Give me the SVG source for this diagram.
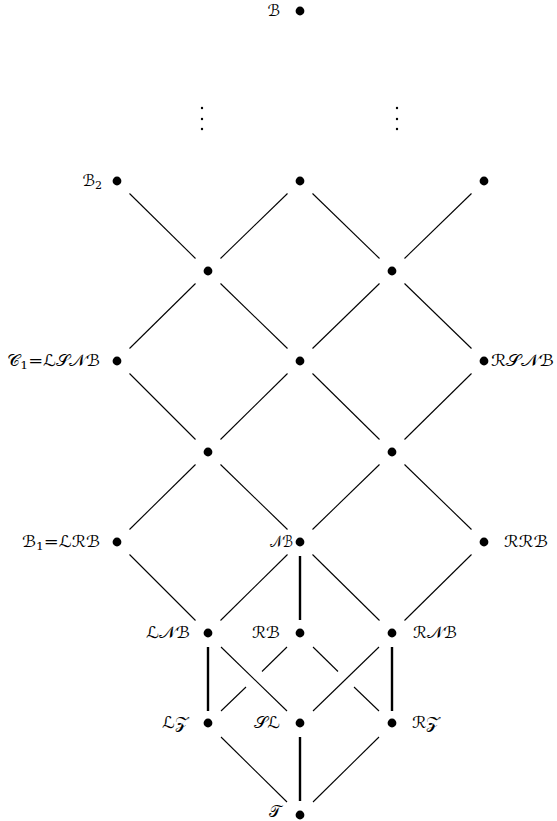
<svg xmlns="http://www.w3.org/2000/svg" width="557" height="821" viewBox="0 0 557 821">
<style>
  .e { stroke: #000; stroke-width: 1.1; fill: none; }
  .t { stroke: #000; stroke-width: 2.4; fill: none; }
  .dot { fill: #000; }
  .sd { fill: #000; }
  text { font-family: "DejaVu Serif", "DejaVu Sans", "Noto Sans", serif; font-size: 16px; fill: #000; }
  .l { text-anchor: end; }
  .sub { font-size: 11px; }
</style>
<rect width="557" height="821" fill="#fff"/>
<g id="connectors">
  <line class="e" x1="129.5" y1="193.5" x2="195.5" y2="258.5"/>
  <line class="e" x1="287.5" y1="193.5" x2="220.5" y2="258.5"/>
  <line class="e" x1="312.5" y1="193.5" x2="379.5" y2="258.5"/>
  <line class="e" x1="471.5" y1="193.5" x2="404.5" y2="258.5"/>
  <line class="e" x1="195.5" y1="283.5" x2="129.5" y2="348.5"/>
  <line class="e" x1="220.5" y1="283.5" x2="287.5" y2="348.5"/>
  <line class="e" x1="379.5" y1="283.5" x2="312.5" y2="348.5"/>
  <line class="e" x1="404.5" y1="283.5" x2="471.5" y2="348.5"/>
  <line class="e" x1="129.5" y1="373.5" x2="195.5" y2="439.5"/>
  <line class="e" x1="287.5" y1="373.5" x2="220.5" y2="439.5"/>
  <line class="e" x1="312.5" y1="373.5" x2="379.5" y2="439.5"/>
  <line class="e" x1="471.5" y1="373.5" x2="404.5" y2="439.5"/>
  <line class="e" x1="195.5" y1="464.5" x2="129.5" y2="529.5"/>
  <line class="e" x1="220.5" y1="464.5" x2="287.5" y2="529.5"/>
  <line class="e" x1="379.5" y1="464.5" x2="312.5" y2="529.5"/>
  <line class="e" x1="404.5" y1="464.5" x2="471.5" y2="529.5"/>
  <line class="e" x1="129.5" y1="554.5" x2="195.5" y2="620.5"/>
  <line class="e" x1="287.5" y1="554.5" x2="220.5" y2="620.5"/>
  <line class="t" x1="300" y1="556" x2="300" y2="620"/>
  <line class="e" x1="312.5" y1="554.5" x2="379.5" y2="620.5"/>
  <line class="e" x1="471.5" y1="554.5" x2="404.5" y2="620.5"/>
  <line class="t" x1="208" y1="647" x2="208" y2="711"/>
  <line class="e" x1="221" y1="647" x2="287" y2="711"/>
  <line class="e" x1="287" y1="647" x2="262" y2="671.5"/>
  <line class="e" x1="246" y1="687" x2="221" y2="711"/>
  <line class="e" x1="313" y1="647" x2="338" y2="671.5"/>
  <line class="e" x1="354" y1="687" x2="379" y2="711"/>
  <line class="e" x1="379" y1="647" x2="313" y2="711"/>
  <line class="t" x1="392" y1="647" x2="392" y2="711"/>
  <line class="e" x1="221" y1="737" x2="287" y2="802"/>
  <line class="t" x1="300" y1="737" x2="300" y2="801"/>
  <line class="e" x1="379" y1="737" x2="313" y2="802"/>
</g>
<g id="vdots">
  <circle class="sd" cx="202" cy="108" r="1.2"/>
  <circle class="sd" cx="202" cy="119" r="1.2"/>
  <circle class="sd" cx="202" cy="129" r="1.2"/>
  <circle class="sd" cx="397" cy="108" r="1.2"/>
  <circle class="sd" cx="397" cy="119" r="1.2"/>
  <circle class="sd" cx="397" cy="129" r="1.2"/>
</g>
<g id="n-B"><circle class="dot" cx="300" cy="11" r="4.4"/><text class="l" x="280" y="16">ℬ</text></g>
<g id="n-B2"><circle class="dot" cx="117" cy="181" r="4.4"/><text class="l" x="102" y="186">ℬ<tspan class="sub" dy="3">2</tspan></text></g>
<g id="n-a2"><circle class="dot" cx="300" cy="181" r="4.4"/></g>
<g id="n-a3"><circle class="dot" cx="484" cy="181" r="4.4"/></g>
<g id="n-b1"><circle class="dot" cx="208" cy="271" r="4.4"/></g>
<g id="n-b2"><circle class="dot" cx="392" cy="271" r="4.4"/></g>
<g id="n-C1"><circle class="dot" cx="117" cy="361" r="4.4"/><text class="l" x="100" y="366" textLength="93" lengthAdjust="spacingAndGlyphs">𝒞<tspan class="sub" dy="3">1</tspan><tspan dy="-3">=ℒ𝒮𝒩ℬ</tspan></text></g>
<g id="n-c2"><circle class="dot" cx="300" cy="361" r="4.4"/></g>
<g id="n-RSNB"><circle class="dot" cx="484" cy="361" r="4.4"/><text x="491" y="366" textLength="63" lengthAdjust="spacingAndGlyphs">ℛ𝒮𝒩ℬ</text></g>
<g id="n-d1"><circle class="dot" cx="208" cy="452" r="4.4"/></g>
<g id="n-d2"><circle class="dot" cx="392" cy="452" r="4.4"/></g>
<g id="n-B1"><circle class="dot" cx="117" cy="542" r="4.4"/><text class="l" x="100" y="547" textLength="78" lengthAdjust="spacingAndGlyphs">ℬ<tspan class="sub" dy="3">1</tspan><tspan dy="-3">=ℒℛℬ</tspan></text></g>
<g id="n-NB"><circle class="dot" cx="300" cy="542" r="4.4"/><text class="l" x="293" y="547" textLength="23" lengthAdjust="spacingAndGlyphs">𝒩ℬ</text></g>
<g id="n-RRB"><circle class="dot" cx="484" cy="542" r="4.4"/><text x="504" y="547" textLength="44" lengthAdjust="spacingAndGlyphs">ℛℛℬ</text></g>
<g id="n-LNB"><circle class="dot" cx="208" cy="633" r="4.4"/><text class="l" x="190" y="638" textLength="44" lengthAdjust="spacingAndGlyphs">ℒ𝒩ℬ</text></g>
<g id="n-RB"><circle class="dot" cx="300" cy="633" r="4.4"/><text class="l" x="280" y="638" textLength="28" lengthAdjust="spacingAndGlyphs">ℛℬ</text></g>
<g id="n-RNB"><circle class="dot" cx="392" cy="633" r="4.4"/><text x="413" y="638" textLength="44" lengthAdjust="spacingAndGlyphs">ℛ𝒩ℬ</text></g>
<g id="n-LZ"><circle class="dot" cx="208" cy="723" r="4.4"/><text class="l" x="188" y="728" textLength="26" lengthAdjust="spacingAndGlyphs">ℒ𝒵</text></g>
<g id="n-SL"><circle class="dot" cx="300" cy="723" r="4.4"/><text class="l" x="280" y="728" textLength="26" lengthAdjust="spacingAndGlyphs">𝒮ℒ</text></g>
<g id="n-RZ"><circle class="dot" cx="392" cy="723" r="4.4"/><text x="412" y="728" textLength="28" lengthAdjust="spacingAndGlyphs">ℛ𝒵</text></g>
<g id="n-T"><circle class="dot" cx="300" cy="815" r="4.4"/><text class="l" x="281" y="817">𝒯</text></g>
</svg>
